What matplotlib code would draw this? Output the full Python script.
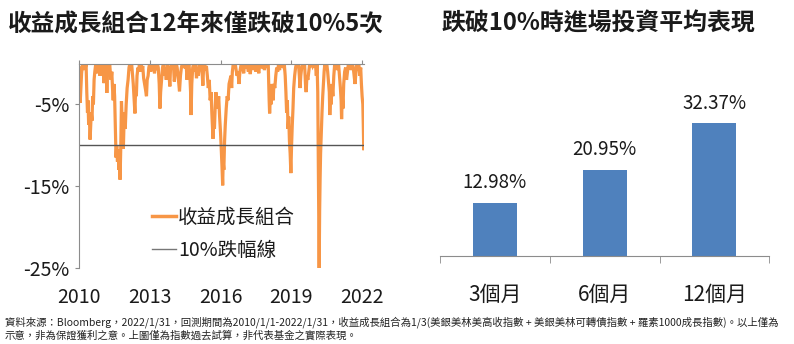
import matplotlib
matplotlib.use("Agg")
import matplotlib.pyplot as plt
from matplotlib.lines import Line2D
from matplotlib.ticker import FixedLocator

plt.rcParams['font.family'] = ['Noto Sans CJK TC', 'DejaVu Sans']

# ---------------- data ----------------
years = [
    2010.00, 2010.02, 2010.05, 2010.08, 2010.11, 2010.14, 2010.17, 2010.20, 2010.23, 2010.27,
    2010.30, 2010.33, 2010.36, 2010.38, 2010.41, 2010.44, 2010.47, 2010.49, 2010.52, 2010.55,
    2010.58, 2010.61, 2010.64, 2010.67, 2010.70, 2010.73, 2010.76, 2010.79, 2010.82, 2010.86,
    2010.89, 2010.92, 2010.96, 2011.00, 2011.03, 2011.06, 2011.09, 2011.12, 2011.15, 2011.18,
    2011.21, 2011.24, 2011.27, 2011.30, 2011.33, 2011.36, 2011.39, 2011.42, 2011.45, 2011.48,
    2011.51, 2011.54, 2011.57, 2011.60, 2011.63, 2011.66, 2011.69, 2011.72, 2011.74, 2011.77,
    2011.80, 2011.84, 2011.88, 2011.92, 2011.96, 2012.00, 2012.04, 2012.08, 2012.12, 2012.16,
    2012.20, 2012.23, 2012.27, 2012.30, 2012.34, 2012.37, 2012.40, 2012.43, 2012.46, 2012.50,
    2012.53, 2012.56, 2012.60, 2012.63, 2012.67, 2012.70, 2012.74, 2012.78, 2012.82, 2012.86,
    2012.89, 2012.93, 2012.96, 2013.00, 2013.04, 2013.08, 2013.12, 2013.16, 2013.20, 2013.24,
    2013.28, 2013.32, 2013.36, 2013.40, 2013.43, 2013.46, 2013.50, 2013.54, 2013.58, 2013.62,
    2013.66, 2013.70, 2013.74, 2013.78, 2013.82, 2013.85, 2013.88, 2013.92, 2013.96, 2014.00,
    2014.04, 2014.08, 2014.12, 2014.16, 2014.20, 2014.23, 2014.26, 2014.30, 2014.34, 2014.38,
    2014.42, 2014.46, 2014.50, 2014.54, 2014.58, 2014.62, 2014.66, 2014.70, 2014.73, 2014.75,
    2014.78, 2014.82, 2014.86, 2014.90, 2014.94, 2014.98, 2015.02, 2015.06, 2015.10, 2015.14,
    2015.18, 2015.22, 2015.25, 2015.28, 2015.32, 2015.36, 2015.40, 2015.44, 2015.48, 2015.52,
    2015.56, 2015.60, 2015.63, 2015.66, 2015.68, 2015.71, 2015.74, 2015.77, 2015.80, 2015.84,
    2015.88, 2015.92, 2015.96, 2016.00, 2016.03, 2016.06, 2016.09, 2016.11, 2016.14, 2016.17,
    2016.20, 2016.24, 2016.28, 2016.32, 2016.36, 2016.40, 2016.44, 2016.47, 2016.50, 2016.54,
    2016.58, 2016.62, 2016.66, 2016.70, 2016.74, 2016.78, 2016.82, 2016.86, 2016.90, 2016.94,
    2016.98, 2017.02, 2017.06, 2017.10, 2017.14, 2017.18, 2017.22, 2017.26, 2017.30, 2017.34,
    2017.38, 2017.42, 2017.46, 2017.50, 2017.54, 2017.58, 2017.62, 2017.66, 2017.70, 2017.74,
    2017.78, 2017.82, 2017.86, 2017.90, 2017.94, 2017.98, 2018.02, 2018.06, 2018.08, 2018.11,
    2018.14, 2018.17, 2018.20, 2018.23, 2018.26, 2018.30, 2018.34, 2018.38, 2018.42, 2018.46,
    2018.50, 2018.54, 2018.58, 2018.62, 2018.66, 2018.70, 2018.74, 2018.77, 2018.80, 2018.83,
    2018.86, 2018.89, 2018.92, 2018.95, 2018.98, 2019.01, 2019.04, 2019.07, 2019.10, 2019.14,
    2019.18, 2019.22, 2019.26, 2019.30, 2019.34, 2019.37, 2019.40, 2019.44, 2019.48, 2019.52,
    2019.56, 2019.60, 2019.63, 2019.66, 2019.70, 2019.74, 2019.78, 2019.82, 2019.86, 2019.90,
    2019.94, 2019.98, 2020.02, 2020.06, 2020.09, 2020.12, 2020.14, 2020.16, 2020.18, 2020.20,
    2020.22, 2020.24, 2020.27, 2020.30, 2020.33, 2020.36, 2020.39, 2020.42, 2020.46, 2020.50,
    2020.54, 2020.58, 2020.61, 2020.63, 2020.66, 2020.69, 2020.72, 2020.76, 2020.80, 2020.84,
    2020.88, 2020.92, 2020.96, 2021.00, 2021.04, 2021.08, 2021.11, 2021.13, 2021.16, 2021.19,
    2021.22, 2021.26, 2021.30, 2021.34, 2021.38, 2021.42, 2021.46, 2021.50, 2021.54, 2021.58,
    2021.62, 2021.66, 2021.70, 2021.74, 2021.78, 2021.82, 2021.86, 2021.90, 2021.94, 2021.97,
    2022.00, 2022.03, 2022.05, 2022.07, 2022.08,
]

drawdown = [
    -0.5, -1.5, -4.8, -3.0, -1.2, -0.3, 0.0, -0.8, 0.0, -0.5,
    0.0, -3.5, -6.0, -4.5, -7.5, -6.5, -9.3, -8.0, -6.0, -7.0,
    -4.0, -5.0, -2.0, -1.0, -0.3, 0.0, -1.2, 0.0, -0.8, 0.0,
    -1.5, 0.0, -0.5, 0.0, -1.0, -2.4, 0.0, -1.5, -0.5, -3.6,
    -1.0, 0.0, -0.8, 0.0, -1.2, -2.0, -1.0, -3.0, -4.5, -2.5,
    -4.0, -8.0, -11.5, -10.0, -12.0, -10.5, -13.0, -11.0, -14.2, -10.3,
    -4.6, -8.0, -10.4, -6.0, -8.0, -5.0, -3.0, -2.0, -0.5, 0.0,
    -0.8, 0.0, -1.5, -2.5, -4.5, -6.1, -3.0, -4.0, -1.5, -0.5,
    -1.0, 0.0, -0.5, 0.0, -1.0, -0.3, -1.8, -2.5, -3.2, -4.0,
    -2.0, -1.5, -0.5, 0.0, -1.0, 0.0, -0.6, 0.0, -1.2, 0.0,
    -0.8, 0.0, -0.5, -2.5, -5.5, -3.5, -2.0, -0.5, 0.0, -1.5,
    -0.5, -2.0, 0.0, -0.8, -1.5, -2.8, -0.5, 0.0, -0.7, 0.0,
    -2.2, -1.0, 0.0, -0.5, -1.5, -2.5, -3.4, -1.5, -0.5, 0.0,
    -0.4, 0.0, -0.6, 0.0, -2.0, -0.5, 0.0, -1.5, -3.5, -6.3,
    -2.5, -0.5, 0.0, -1.0, 0.0, -1.8, -0.5, -1.5, 0.0, -0.5,
    0.0, -1.2, -2.7, -0.5, 0.0, -0.8, -0.3, -1.5, -3.0, -2.0,
    -4.5, -3.5, -6.0, -8.1, -9.2, -7.0, -8.0, -5.5, -3.5, -4.5,
    -5.5, -4.0, -6.5, -8.5, -10.5, -12.5, -14.9, -12.0, -13.0, -9.5,
    -7.5, -5.5, -4.0, -4.5, -2.5, -2.0, -1.5, -3.0, -1.0, 0.0,
    -0.5, 0.0, -0.8, -1.5, -1.0, -2.5, -1.0, -0.3, 0.0, -0.5,
    -1.2, 0.0, -0.6, 0.0, -0.4, -1.0, -0.2, -1.3, 0.0, -0.6,
    0.0, -0.8, -0.2, -1.0, 0.0, -0.5, -1.2, 0.0, -0.4, 0.0,
    -0.6, 0.0, -0.8, -0.2, -0.5, 0.0, 0.0, -4.5, -6.1, -4.0,
    -5.0, -2.5, -3.5, -4.5, -2.5, -3.0, -1.5, -0.5, -1.0, 0.0,
    -0.8, 0.0, -0.5, 0.0, -0.3, 0.0, -1.5, -3.5, -6.0, -4.5,
    -8.0, -6.5, -9.5, -11.0, -13.4, -10.0, -7.5, -5.5, -3.0, -1.5,
    -0.5, 0.0, -0.5, 0.0, -1.5, -3.0, -1.5, -0.5, 0.0, -0.6,
    0.0, -2.5, -3.5, -1.5, -2.0, -1.0, 0.0, -0.4, 0.0, -0.3,
    0.0, -0.5, 0.0, -1.5, 0.0, -3.5, -10.0, -18.0, -25.0, -18.0,
    -14.0, -11.0, -8.5, -6.0, -4.0, -2.5, -1.0, 0.0, -0.5, 0.0,
    -1.0, -2.5, -3.5, -6.3, -4.0, -5.0, -2.5, -4.0, -1.5, 0.0,
    -0.5, 0.0, -0.8, 0.0, -1.5, -3.0, -4.5, -6.8, -4.0, -5.5,
    -2.5, -1.0, -0.5, -2.0, -1.0, 0.0, -0.5, 0.0, -0.8, 0.0,
    -0.4, -1.5, -2.5, -1.0, 0.0, -0.3, 0.0, -1.5, -0.5, -2.5,
    -4.0, -5.0, -7.5, -10.6, -10.2,
]

threshold = -10.0
year_ticks = [2010, 2013, 2016, 2019, 2022]
ytick_vals = [-5, -15, -25]
ytick_labels = ['-5%', '-15%', '-25%']

bar_categories = ['3個月', '6個月', '12個月']
bar_values = [12.98, 20.95, 32.37]

title_left = '收益成長組合12年來僅跌破10%5次'
title_right = '跌破10%時進場投資平均表現'
legend_labels = ['收益成長組合', '10%跌幅線']
footnote_line1 = ('資料來源：Bloomberg，2022/1/31，回測期間為2010/1/1-2022/1/31，收益成長組合為1/3(美銀美林美高收指數 + '
                  '美銀美林可轉債指數 + 羅素1000成長指數)。以上僅為')
footnote_line2 = '示意，非為保證獲利之意。上圖僅為指數過去試算，非代表基金之實際表現。'

# ---------------- figure ----------------
W, H = 794, 344
fig = plt.figure(figsize=(W / 100, H / 100), dpi=100)

ORANGE = '#F79646'
BLUE = '#4F81BD'
GRAY = '#8C8C8C'
TXT = '#1a1a1a'

# left chart
axL = fig.add_axes([79 / W, 1 - 268 / H, 285 / W, (268 - 63.5) / H])
axL.plot(years, drawdown, color=ORANGE, lw=2.3, solid_joinstyle='miter')
axL.axhline(threshold, color='#555555', lw=1.0)
axL.set_xlim(2010.0, 2022.08)
axL.set_ylim(-25, 0)
for s in ['right', 'bottom']:
    axL.spines[s].set_visible(False)
axL.spines['left'].set_color(GRAY)
axL.spines['top'].set_color(GRAY)
axL.set_yticks(ytick_vals)
axL.set_yticklabels(ytick_labels)
axL.set_xticks(year_ticks)
axL.set_xticklabels([str(y) for y in year_ticks])
axL.tick_params(axis='y', direction='out', length=3, color=GRAY, labelsize=14, labelcolor=TXT, pad=4)
axL.tick_params(axis='x', top=True, bottom=False, labelbottom=True, labeltop=False,
                direction='out', length=3, color=GRAY, labelsize=14, labelcolor=TXT, pad=11)

handles = [Line2D([], [], color=ORANGE, lw=2.5), Line2D([], [], color='#777777', lw=1.0)]
axL.legend(handles, legend_labels, loc='upper left', bbox_to_anchor=(0.255, 0.30),
           frameon=False, fontsize=14, handlelength=1.25, handletextpad=0.1,
           labelspacing=0.62, borderpad=0, borderaxespad=0, labelcolor=TXT)

# right chart
axR = fig.add_axes([440 / W, 1 - 256 / H, 329.3 / W, 164 / H])
xpos = list(range(len(bar_values)))
bars = axR.bar(xpos, bar_values, width=0.4, color=BLUE)
axR.set_xlim(-0.5, len(bar_values) - 0.5)
axR.set_ylim(0, 40)
for s in ['left', 'right', 'top']:
    axR.spines[s].set_visible(False)
axR.spines['bottom'].set_color(GRAY)
axR.set_yticks([])
axR.set_xticks(xpos)
axR.set_xticklabels(bar_categories)
axR.xaxis.set_minor_locator(FixedLocator([-0.5, 0.5, 1.5, 2.5]))
axR.tick_params(axis='x', which='major', length=0, labelsize=15, labelcolor=TXT, pad=20)
axR.tick_params(axis='x', which='minor', length=5, color=GRAY, direction='out')
for b, v in zip(bars, bar_values):
    axR.annotate(f'{v:.2f}%', (b.get_x() + b.get_width() / 2, b.get_height()),
                 xytext=(0, 14.5), textcoords='offset points', ha='center', va='center',
                 fontsize=13.5, color=TXT)

# titles
fig.text(8 / W, 1 - 25 / H, title_left, fontsize=17, fontweight='bold', color=TXT,
         ha='left', va='center')
fig.text(441.5 / W, 1 - 23.5 / H, title_right, fontsize=17.2, fontweight='bold', color=TXT,
         ha='left', va='center')

# footnote
fig.text(5 / W, 1 - 322.5 / H, footnote_line1, fontsize=7.5, color='#222222', ha='left', va='center')
fig.text(5 / W, 1 - 335.5 / H, footnote_line2, fontsize=7.5, color='#222222', ha='left', va='center')

fig.savefig('out.png', dpi=100)
